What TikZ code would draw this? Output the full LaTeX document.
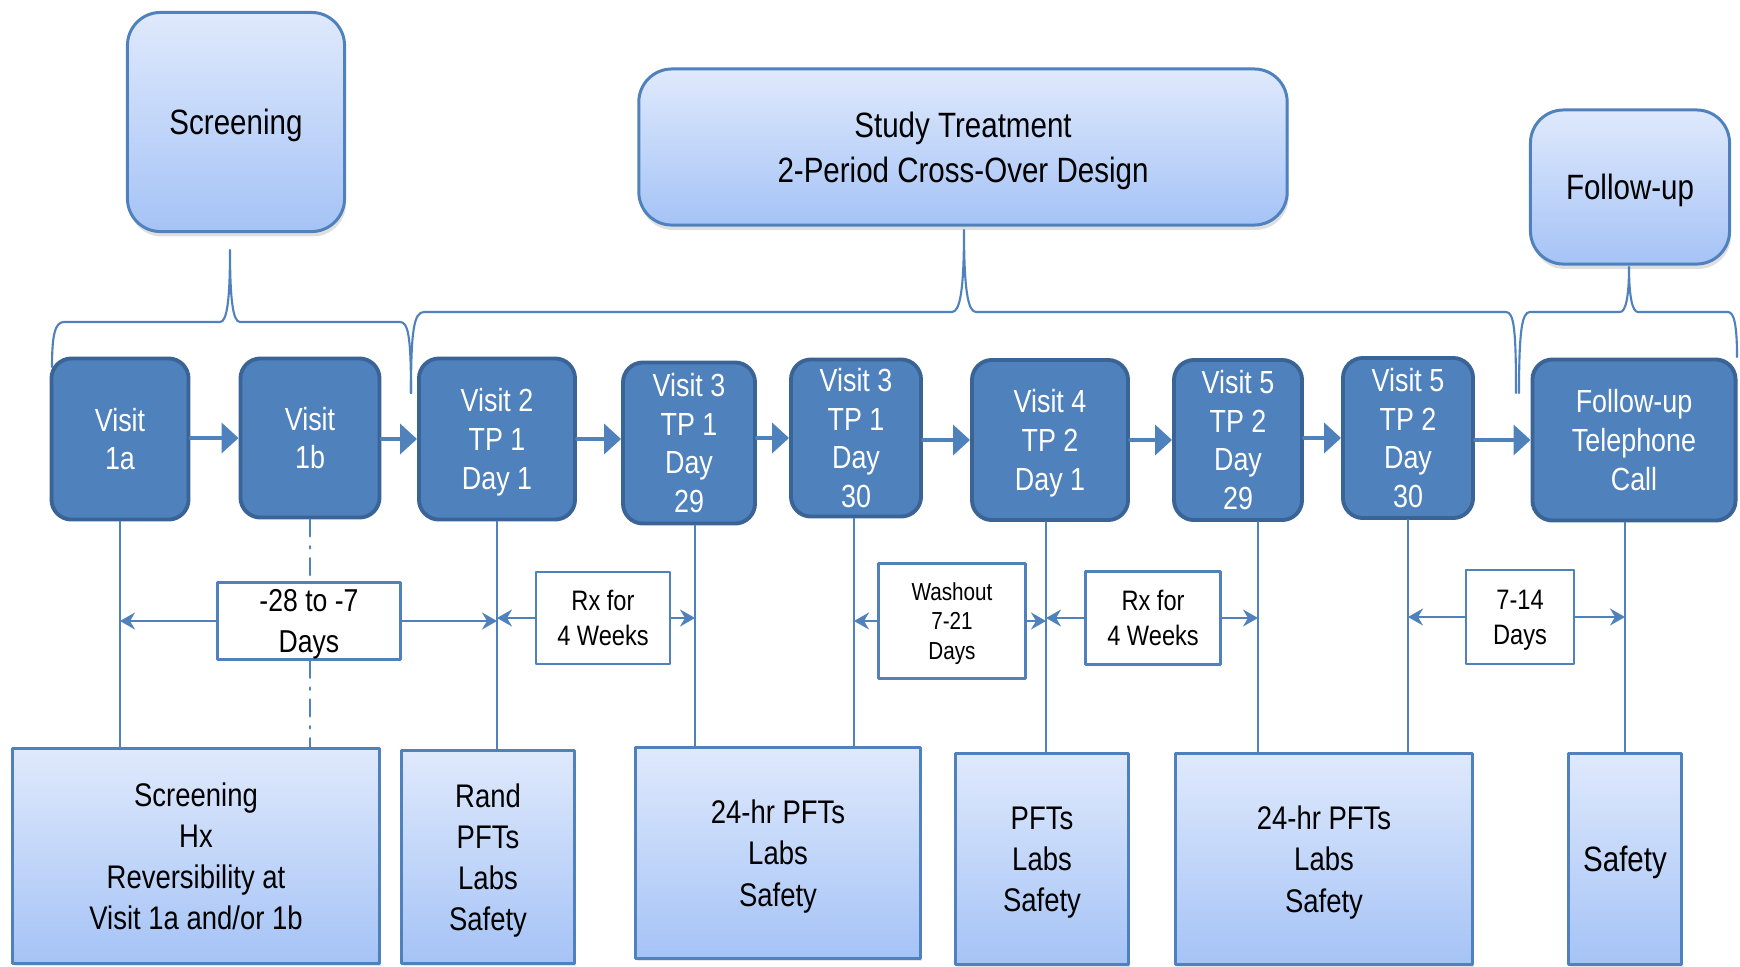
\documentclass[tikz,border=0pt]{standalone}
\usepackage{fontspec}
\setmainfont{Liberation Sans}[FakeStretch=0.84]
\usetikzlibrary{arrows.meta,shadows}

\definecolor{blueline}{HTML}{4F81BD}
\definecolor{visitedge}{HTML}{3A6396}
\definecolor{paletop}{HTML}{DFE9FC}
\definecolor{palebot}{HTML}{A5C3F6}

\tikzset{
  phasebox/.style={draw=blueline,line width=0.85pt,rounded corners=0.33cm,top color=paletop,bottom color=palebot,
    align=center,inner sep=0pt,text depth=0pt,font=\fontsize{10}{12.8}\selectfont,
    drop shadow={shadow xshift=0.4pt,shadow yshift=-1.4pt,opacity=0.25}},
  visitbox/.style={draw=visitedge,line width=1.1pt,rounded corners=0.2cm,fill=blueline,text=white,
    align=center,inner sep=0pt,text depth=0pt,font=\fontsize{9.1}{11}\selectfont},
  taskbox/.style={draw=blueline,line width=0.85pt,top color=paletop,bottom color=palebot,
    align=center,inner sep=0pt,text depth=0pt,font=\fontsize{9.3}{11.7}\selectfont,
    drop shadow={shadow xshift=0.5pt,shadow yshift=-0.8pt,opacity=0.2}},
  gapbox/.style={draw=blueline,line width=0.75pt,fill=white,align=center,inner sep=0pt,text depth=0pt},
  flow/.style={blueline,line width=1.1pt,-{Triangle[length=0.17cm,width=0.30cm]}},
  gaptip/.style={blueline,line width=0.6pt,-{Stealth[length=0.15cm,width=0.17cm,inset=0.05cm]}},
  stem/.style={blueline,line width=0.7pt},
  bracestroke/.style={blueline,line width=0.6pt}
}

\begin{document}
\begin{tikzpicture}[x=0.01cm,y=-0.01cm,line cap=round,line join=round]
  \useasboundingbox (0,0) rectangle (1740,966);

  % phase headers
  \node[phasebox,minimum width=2.17cm,minimum height=2.19cm] (scr) at (236,122) {Screening};
  \node[phasebox,minimum width=6.48cm,minimum height=1.56cm] (study) at (963,147) {Study Treatment\\2-Period Cross-Over Design};
  \node[phasebox,minimum width=1.99cm,minimum height=1.54cm] (fup) at (1630,187) {Follow-up};

  % brackets under the headers
  \draw[bracestroke] (52,367) .. controls (52,335) and (55,322) .. (64,322) -- (220,322)
    .. controls (227,322) and (230,300) .. (230,250) .. controls (230,300) and (233,322) .. (240,322)
    -- (400,322) .. controls (408,322) and (411,335) .. (411,393);
  \draw[bracestroke] (411,393) .. controls (411,330) and (414,312) .. (424,312) -- (952,312)
    .. controls (960,312) and (964,290) .. (964,230) .. controls (964,290) and (968,312) .. (976,312)
    -- (1506,312) .. controls (1514,312) and (1516,330) .. (1516,393);
  \draw[bracestroke] (1519,393) .. controls (1519,330) and (1522,312) .. (1530,312) -- (1620,312)
    .. controls (1626,312) and (1629,295) .. (1629,267) .. controls (1629,295) and (1632,312) .. (1638,312)
    -- (1728,312) .. controls (1734,312) and (1737,325) .. (1737,357);

  % visits
  \node[visitbox,minimum width=1.37cm,minimum height=1.61cm] (v1a) at (120,439) {Visit\\1a};
  \node[visitbox,minimum width=1.39cm,minimum height=1.59cm] (v1b) at (310,438) {Visit\\1b};
  \node[visitbox,minimum width=1.56cm,minimum height=1.61cm] (v2) at (497,439) {Visit 2\\TP 1\\Day 1};
  \node[visitbox,minimum width=1.32cm,minimum height=1.61cm] (v3a) at (689,443) {Visit 3\\TP 1\\Day\\29};
  \node[visitbox,minimum width=1.30cm,minimum height=1.57cm] (v3b) at (856,438) {Visit 3\\TP 1\\Day\\30};
  \node[visitbox,minimum width=1.56cm,minimum height=1.60cm] (v4) at (1050,440) {Visit 4\\TP 2\\Day 1};
  \node[visitbox,minimum width=1.28cm,minimum height=1.60cm] (v5a) at (1238,440) {Visit 5\\TP 2\\Day\\29};
  \node[visitbox,minimum width=1.30cm,minimum height=1.60cm] (v5b) at (1408,438) {Visit 5\\TP 2\\Day\\30};
  \node[visitbox,minimum width=2.03cm,minimum height=1.61cm] (fcall) at (1634,440) {Follow-up\\Telephone\\Call};

  \draw[flow] (v1a.east |- v1b.west) -- (v1b.west);
  \draw[flow] (v1b.east |- v2.west) -- (v2.west);
  \draw[flow] (v2.east) -- (v2.east -| v3a.west);
  \draw[flow] (v3a.east |- v3b.west) -- (v3b.west);
  \foreach \a/\b in {v3b/v4,v4/v5a,v5a/v5b,v5b/fcall}
    \draw[flow] (\a.east |- \b.west) -- (\b.west);

  % where the time lines leave the visits
  \coordinate (l1a) at (v1a.south);
  \coordinate (l1b) at (v1b.south);
  \coordinate (l2) at (v2.south);
  \coordinate (l3a) at ([xshift=0.06cm]v3a.south);
  \coordinate (l3b) at ([xshift=-0.02cm]v3b.south);
  \coordinate (l4) at ([xshift=-0.04cm]v4.south);
  \coordinate (l5a) at ([xshift=0.2cm]v5a.south);
  \coordinate (l5b) at (v5b.south);
  \coordinate (lf) at ([xshift=-0.09cm]fcall.south);

  % assessments
  \node[taskbox,minimum width=3.67cm,minimum height=2.15cm] (bA) at (196,856) {Screening\\Hx\\Reversibility at\\Visit 1a and/or 1b};
  \node[taskbox,minimum width=1.72cm,minimum height=2.13cm] (bB) at (488,857) {Rand\\PFTs\\Labs\\Safety};
  \node[taskbox,minimum width=2.85cm,minimum height=2.11cm] (bC) at (778,853) {24-hr PFTs\\Labs\\Safety};
  \node[taskbox,minimum width=1.72cm,minimum height=2.11cm] (bD) at (1042,859) {PFTs\\Labs\\Safety};
  \node[taskbox,minimum width=2.97cm,minimum height=2.11cm] (bE) at (1324,859) {24-hr PFTs\\Labs\\Safety};
  \node[taskbox,minimum width=1.13cm,minimum height=2.11cm,font=\fontsize{10}{12}\selectfont] (bF) at (1625,859) {Safety};

  \foreach \l/\b in {l1a/bA,l2/bB,l3a/bC,l3b/bC,l4/bD,l5a/bE,l5b/bE,lf/bF}
    \draw[stem] (\l) -- (\l |- \b.north);

  % intervals
  \node[gapbox,minimum width=1.83cm,minimum height=0.77cm,font=\fontsize{9}{11.8}\selectfont] (gA) at (309,621) {-28 to -7\\Days};
  \node[gapbox,minimum width=1.34cm,minimum height=0.92cm,font=\fontsize{8}{10}\selectfont] (gB) at (603,618) {Rx for\\4 Weeks};
  \node[gapbox,minimum width=1.47cm,minimum height=1.15cm,font=\fontsize{7}{8.5}\selectfont] (gC) at (952,621) {Washout\\7-21\\Days};
  \node[gapbox,minimum width=1.35cm,minimum height=0.93cm,font=\fontsize{8}{10}\selectfont] (gD) at (1153,618) {Rx for\\4 Weeks};
  \node[gapbox,minimum width=1.08cm,minimum height=0.94cm,font=\fontsize{8}{10}\selectfont] (gE) at (1520,617) {7-14\\Days};

  \draw[stem,dash pattern=on 4.8pt off 2.8pt on 0.6pt off 2.8pt] (l1b) -- (l1b |- gA.north);
  \draw[stem,dash pattern=on 4.8pt off 2.8pt on 0.6pt off 2.8pt] (l1b |- gA.south) -- (l1b |- bA.north);

  \draw[gaptip] (gA.west) -- (l1a |- gA.west);
  \draw[gaptip] (gA.east) -- (l2 |- gA.east);
  \draw[gaptip] (gB.west) -- (l2 |- gB.west);
  \draw[gaptip] (gB.east) -- (l3a |- gB.east);
  \draw[gaptip] (gC.west) -- (l3b |- gC.west);
  \draw[gaptip] (gC.east) -- (l4 |- gC.east);
  \draw[gaptip] (gD.west) -- (l4 |- gD.west);
  \draw[gaptip] (gD.east) -- (l5a |- gD.east);
  \draw[gaptip] (gE.west) -- (l5b |- gE.west);
  \draw[gaptip] (gE.east) -- (lf |- gE.east);
\end{tikzpicture}
\end{document}
